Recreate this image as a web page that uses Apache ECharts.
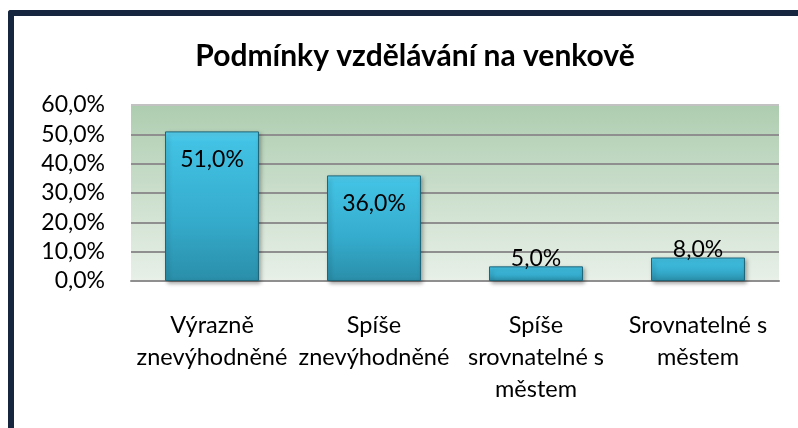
<!DOCTYPE html>
<html>
<head>
<meta charset="utf-8">
<script src="https://cdn.jsdelivr.net/npm/echarts@6/dist/echarts.min.js"></script>
<style>
	html, body { margin: 0; padding: 0; background: #ffffff; }
	#chart { width: 798px; height: 428px; }
</style>
</head>
<body>
<div id="chart"></div>
<script>
	// chart data
	const categories = [
		"Výrazně\nznevýhodněné",
		"Spíše\nznevýhodněné",
		"Spíše\nsrovnatelné s\nměstem",
		"Srovnatelné s\nměstem",
	];
	const values = [51, 36, 5, 8];
	const yTicks = [0, 10, 20, 30, 40, 50, 60];

	const titleText = "Podmínky vzdělávání na venkově";
	const fontFamily = "Lato, 'Open Sans', sans-serif";

	function pct(v) {
		return v.toFixed(1).replace(".", ",") + "%";
	}

	var chartDom = document.getElementById("chart");
	var myChart = echarts.init(chartDom, null, { renderer: "canvas" });

	var barColor = new echarts.graphic.LinearGradient(0, 0, 0, 1, [
		{ offset: 0, color: "#5ad3f2" },
		{ offset: 0.07, color: "#42c2e4" },
		{ offset: 0.6, color: "#35abcc" },
		{ offset: 1, color: "#2a8ea9" },
	]);

	var option = {
		backgroundColor: "#ffffff",
		animation: false,
		title: {
			text: titleText,
			left: 410,
			top: 36,
			textAlign: "center",
			textStyle: {
				fontFamily: fontFamily,
				fontSize: 30,
				fontWeight: "bold",
				color: "#000000",
			},
		},
		graphic: [
			// dark frame (top and left edges)
			{
				type: "rect",
				shape: { x: 8, y: 10, width: 800, height: 6, r: [3, 0, 0, 0] },
				style: { fill: "#16263f" },
			},
			{
				type: "rect",
				shape: { x: 8, y: 10, width: 6, height: 430, r: [3, 0, 0, 0] },
				style: { fill: "#16263f" },
			},
		],
		grid: {
			left: 131,
			right: 19,
			top: 105,
			bottom: 147,
			show: true,
			borderWidth: 0,
			backgroundColor: new echarts.graphic.LinearGradient(0, 0, 0, 1, [
				{ offset: 0, color: "#aecdb0" },
				{ offset: 1, color: "#e8f0e8" },
			]),
		},
		xAxis: {
			type: "category",
			data: categories,
			axisLine: { show: true, lineStyle: { color: "#8f8f8f", width: 2 } },
			axisTick: { show: false },
			axisLabel: {
				interval: 0,
				margin: 28,
				fontFamily: fontFamily,
				fontSize: 23.5,
				lineHeight: 32,
				color: "#000000",
			},
		},
		yAxis: {
			type: "value",
			min: yTicks[0],
			max: yTicks[yTicks.length - 1],
			interval: 10,
			axisLine: { show: false },
			axisTick: { show: false },
			axisLabel: {
				margin: 26,
				fontFamily: fontFamily,
				fontSize: 23,
				color: "#000000",
				formatter: function (v) {
					return pct(v);
				},
			},
			splitLine: {
				show: true,
				lineStyle: {
					color: ["#8f8f8f", "#8f8f8f", "#8f8f8f", "#8f8f8f", "#8f8f8f", "#8f8f8f", "#c2c2c2"],
					width: 2,
				},
			},
		},
		series: [
			{
				name: "Podmínky",
				type: "bar",
				barWidth: "58%",
				data: values.map(function (v) {
					return {
						value: v,
						label: v > 20
							? { position: "insideTop", distance: 17 }
							: { position: "top", distance: -4 },
					};
				}),
				itemStyle: {
					color: barColor,
					borderColor: "#1e6579",
					borderWidth: 1,
					shadowBlur: 4,
					shadowOffsetX: 2,
					shadowOffsetY: 2,
					shadowColor: "rgba(0, 0, 0, 0.35)",
				},
				label: {
					show: true,
					fontFamily: fontFamily,
					fontSize: 23,
					color: "#000000",
					formatter: function (p) {
						return pct(p.value);
					},
				},
			},
		],
	};

	myChart.setOption(option);
</script>
</body>
</html>
